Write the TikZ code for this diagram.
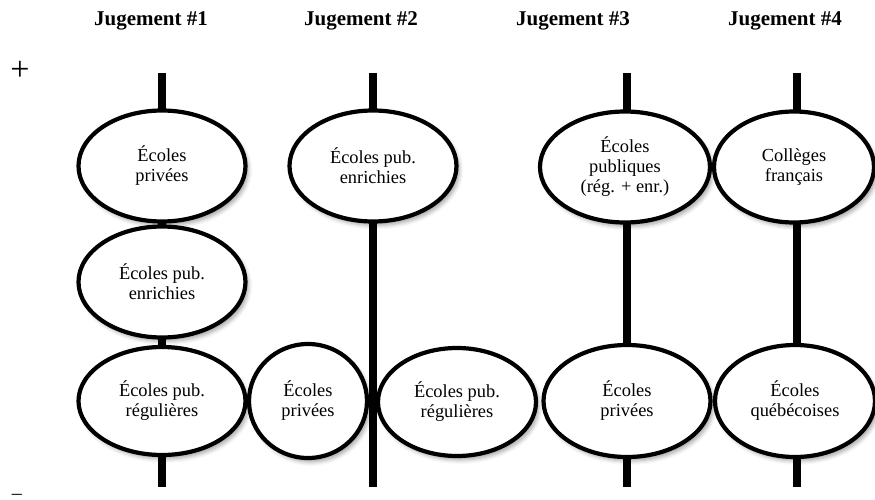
\documentclass[tikz,border=0pt]{standalone}
\usepackage{fontspec}
\setmainfont{Liberation Serif}
\usetikzlibrary{shapes.geometric,shadows.blur}
\tikzset{
  ecole/.style={ellipse, draw, line width=4.2pt, fill=white, inner sep=0pt, align=center,
    font=\fontsize{18.4}{20}\selectfont,
    blur shadow={shadow xshift=3pt, shadow yshift=-4pt, shadow blur radius=4pt, shadow opacity=35}},
  axe/.style={line width=8pt},
  titre/.style={font=\fontsize{21}{25}\selectfont\bfseries, anchor=base},
}
\begin{document}
\begin{tikzpicture}[x=1pt, y=-1pt]
\useasboundingbox (0,0) rectangle (875,500);
\node[titre] (H_1) at (151,26) {Jugement \#1};
\node[titre] (H_2) at (361,26) {Jugement \#2};
\node[titre] (H_3) at (573,26) {Jugement \#3};
\node[titre] (H_4) at (785,26) {Jugement \#4};
\node[font=\fontsize{34}{34}\selectfont] (plus) at (20,71) {+};
\node[font=\fontsize{20}{20}\selectfont, anchor=base] (moins) at (17,499) {–};
\coordinate (T_1) at (162,73);
\coordinate (B_1) at (162,487);
\draw[axe] (T_1) -- (B_1);
\coordinate (T_2) at (373,73);
\coordinate (B_2) at (373,487);
\draw[axe] (T_2) -- (B_2);
\coordinate (T_3) at (627,73);
\coordinate (B_3) at (627,487);
\draw[axe] (T_3) -- (B_3);
\coordinate (T_4) at (797,73);
\coordinate (B_4) at (797,487);
\draw[axe] (T_4) -- (B_4);
\node[ecole, minimum width=167, minimum height=111] (E_1_1) at (162,166) {Écoles\\privées};
\node[ecole, minimum width=167, minimum height=111] (E_1_2) at (162,282) {Écoles pub.\\enrichies};
\node[ecole, minimum width=167, minimum height=108] (E_1_3) at (162,401) {Écoles pub.\\régulières};
\node[ecole, minimum width=167, minimum height=111] (E_2_1) at (373,166) {Écoles pub.\\enrichies};
\node[ecole, minimum width=118, minimum height=114] (E_2_2) at (308,401) {Écoles\\privées};
\node[ecole, minimum width=158, minimum height=108] (E_2_3) at (457,402) {Écoles pub.\\régulières};
\node[ecole, minimum width=170, minimum height=111] (E_3_1) at (625,167) {Écoles\\publiques\\(rég. + enr.)};
\node[ecole, minimum width=167, minimum height=112] (E_3_2) at (627,401) {Écoles\\privées};
\node[ecole, minimum width=160, minimum height=111] (E_4_1) at (794,167) {Collèges\\français};
\node[ecole, minimum width=160, minimum height=112] (E_4_2) at (795,401) {Écoles\\québécoises};
\end{tikzpicture}
\end{document}
